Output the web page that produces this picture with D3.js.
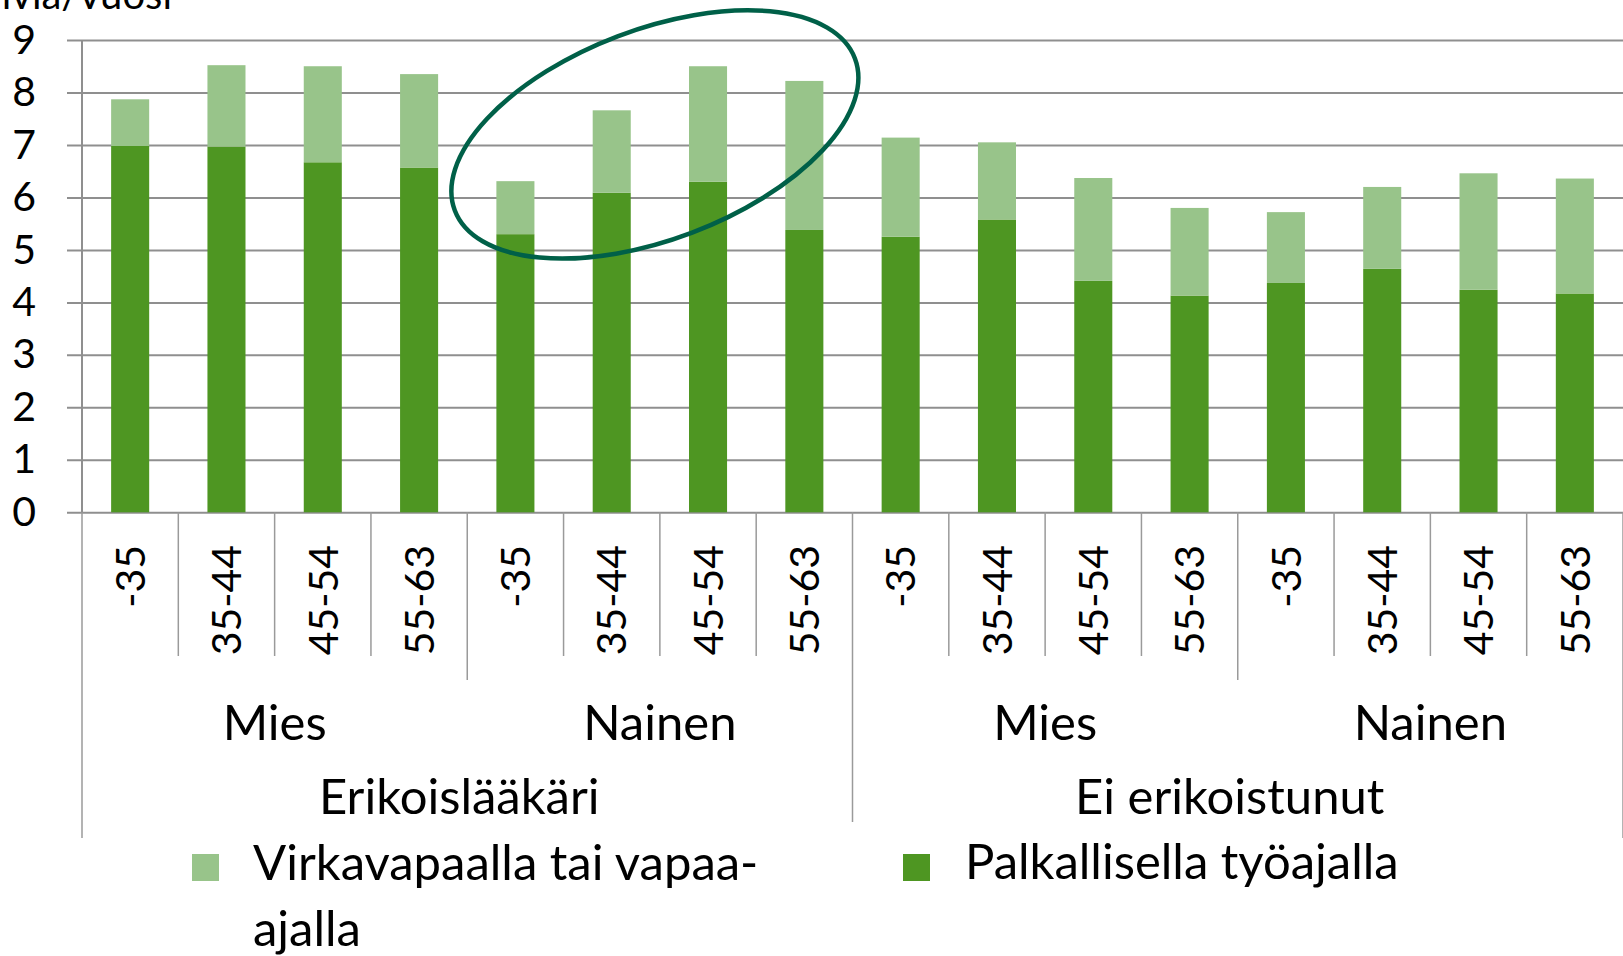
<!DOCTYPE html>
<html>
<head>
<meta charset="utf-8">
<script src="https://cdn.jsdelivr.net/npm/d3@7"></script>
<style>
  body { margin: 0; background: #fff; }
  svg { display: block; font-family: Lato, "Open Sans", sans-serif; }
</style>
</head>
<body>
<div id="chart"></div>
<script>
// age groups repeat inside each gender, genders inside each specialty
var ageGroups = ["-35", "35-44", "45-54", "55-63"];
var genders = ["Mies", "Nainen"];
var specialties = ["Erikoislääkäri", "Ei erikoistunut"];

// days per year, bottom segment (paid working time)
var paidDays = [6.98, 6.97, 6.67, 6.57, 5.30, 6.09, 6.30, 5.38,
                5.25, 5.58, 4.41, 4.13, 4.37, 4.64, 4.24, 4.17];
// days per year, top segment (on leave or free time)
var leaveDays = [0.89, 1.55, 1.83, 1.78, 1.01, 1.57, 2.20, 2.84,
                 1.89, 1.47, 1.96, 1.67, 1.35, 1.56, 2.22, 2.19];

var seriesNames = ["Palkallisella työajalla", "Virkavapaalla tai vapaa-ajalla"];
var yTicks = [0, 1, 2, 3, 4, 5, 6, 7, 8, 9];
var yTitle = "Päiviä/vuosi";

(function() {
var W = 1623, H = 956;
// plot area (note: "top" is a reserved window name, so m.* is used)
var m = { left: 82, right: 1623, top: 40, bottom: 512.3 };
var colDark = "#4e9622", colLight = "#98c48a", gridCol = "#8f8f8f";

var rows = [];
specialties.forEach(function(s, si) {
  genders.forEach(function(g, gi) {
    ageGroups.forEach(function(a, ai) {
      var i = si * 8 + gi * 4 + ai;
      rows.push({ key: i, age: a, paid: paidDays[i], leave: leaveDays[i] });
    });
  });
});

var svg = d3.select("#chart").append("svg")
  .attr("width", W).attr("height", H);

var x = d3.scaleBand()
  .domain(rows.map(function(d) { return d.key; }))
  .range([m.left, m.right])
  .paddingInner(0.605)
  .paddingOuter(0.3025);

var y = d3.scaleLinear().domain([0, 9]).range([m.bottom, m.top]);

// gridlines + y labels
var yAxis = svg.append("g")
  .attr("transform", "translate(67,0)")
  .call(d3.axisLeft(y).tickValues(yTicks).tickSize(-(m.right - 67)).tickPadding(31).tickFormat(d3.format("d")));
yAxis.select(".domain").remove();
yAxis.selectAll(".tick line").attr("stroke", gridCol).attr("stroke-width", 2);
yAxis.selectAll(".tick text")
  .attr("fill", "#000")
  .style("font-size", "41px")
  .style("font-family", "Lato, sans-serif");

// y axis title, cut off by the top of the page as in the original
svg.append("text")
  .attr("x", 172).attr("y", 9)
  .attr("text-anchor", "end")
  .style("font-size", "40px")
  .text(yTitle);

// stacked bars
var stack = d3.stack().keys(["paid", "leave"]);
var layers = stack(rows);
var colors = [colDark, colLight];

svg.append("g").selectAll("g")
  .data(layers)
  .join("g")
    .attr("fill", function(d, i) { return colors[i]; })
  .selectAll("rect")
  .data(function(d) { return d; })
  .join("rect")
    .attr("x", function(d) { return x(d.data.key); })
    .attr("width", x.bandwidth())
    .attr("y", function(d) { return y(d[1]); })
    .attr("height", function(d) { return y(d[0]) - y(d[1]); });

// vertical axis line
svg.append("line")
  .attr("x1", m.left).attr("x2", m.left)
  .attr("y1", m.top).attr("y2", m.bottom)
  .attr("stroke", gridCol).attr("stroke-width", 2);

// multi-level category axis separators
var step = x.step();
var seps = d3.range(0, rows.length + 1);
svg.append("g").selectAll("line")
  .data(seps)
  .join("line")
    .attr("x1", function(i) { return m.left + i * step; })
    .attr("x2", function(i) { return m.left + i * step; })
    .attr("y1", m.bottom)
    .attr("y2", function(i) {
      if (i === 0 || i === rows.length) return 838;
      if (i % 8 === 0) return 822;
      if (i % 4 === 0) return 680;
      return 656;
    })
    .attr("stroke", "#9a9a9a").attr("stroke-width", 1.5);

// age labels, rotated
svg.append("g").selectAll("text")
  .data(rows)
  .join("text")
    .attr("transform", function(d) {
      return "translate(" + (x(d.key) + x.bandwidth() / 2) + ",545) rotate(-90)";
    })
    .attr("text-anchor", "end")
    .attr("dy", "0.36em")
    .style("font-size", "41px")
    .text(function(d) { return d.age; });

// gender labels
var genderLabels = [];
specialties.forEach(function(s, si) {
  genders.forEach(function(g, gi) { genderLabels.push({ name: g, first: si * 8 + gi * 4 }); });
});
svg.append("g").selectAll("text")
  .data(genderLabels)
  .join("text")
    .attr("x", function(d) { return m.left + (d.first + 2) * step; })
    .attr("y", 740)
    .attr("text-anchor", "middle")
    .style("font-size", "49px")
    .text(function(d) { return d.name; });

// specialty labels
svg.append("g").selectAll("text")
  .data(specialties)
  .join("text")
    .attr("x", function(d, i) { return m.left + (i * 8 + 4) * step - 8; })
    .attr("y", 814)
    .attr("text-anchor", "middle")
    .style("font-size", "49px")
    .text(function(d) { return d; });

// highlight ellipse around the female specialists
var ex = m.left + 6 * step - 5, ey = y(7.2);
svg.append("ellipse")
  .attr("transform", "translate(" + ex + "," + ey + ") rotate(-20.8)")
  .attr("rx", 214).attr("ry", 105)
  .attr("fill", "none")
  .attr("stroke", "#006048")
  .attr("stroke-width", 4.5);

// legend
var legend = svg.append("g");
legend.append("rect").attr("x", 192).attr("y", 854).attr("width", 27).attr("height", 27).attr("fill", colLight);
var lt = legend.append("text").attr("x", 253).attr("y", 880).style("font-size", "49px");
lt.append("tspan").attr("x", 253).text("Virkavapaalla tai vapaa-");
lt.append("tspan").attr("x", 253).attr("dy", 66).text("ajalla");

legend.append("rect").attr("x", 903).attr("y", 854).attr("width", 27).attr("height", 27).attr("fill", colDark);
legend.append("text").attr("x", 965).attr("y", 879).style("font-size", "49px").text(seriesNames[0]);
})();
</script>
</body>
</html>
